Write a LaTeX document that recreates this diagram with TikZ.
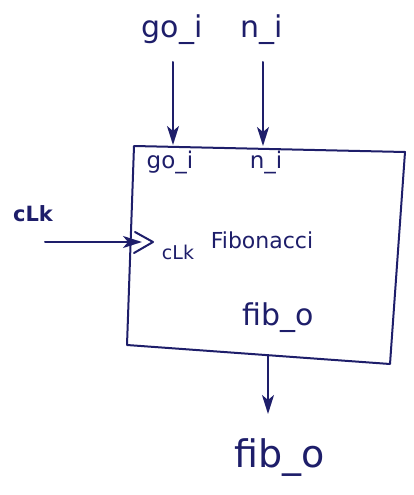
\documentclass[tikz,border=0pt]{standalone}
\usepackage{fontspec}
\setmainfont{DejaVu Sans}
\usetikzlibrary{arrows.meta}
\definecolor{ink}{HTML}{1E1E6A}
\begin{document}
\begin{tikzpicture}[x=1pt,y=-1pt,
  pen/.style={draw=ink,line width=2pt,line cap=round,line join=round},
  sig/.style={pen,-{Stealth[length=19pt,width=12pt,inset=5pt]}},
  big/.style={text=ink,font=\fontsize{30}{32}\selectfont},
  small/.style={text=ink,font=\fontsize{23}{25}\selectfont}]
\useasboundingbox (0,0) rectangle (413,495);
% block outline (slightly skewed corners)
\coordinate (tl) at (134,146);
\coordinate (tr) at (405,152);
\coordinate (br) at (390,364);
\coordinate (bl) at (127,345);
\draw[pen] (tl) -- (tr) -- (br) -- (bl) -- cycle;
% port names inside the block
\node[small] (pgo) at (170,162) {go\_i};
\node[small] (pn) at (266,162) {n\_i};
\node[text=ink,font=\fontsize{19}{21}\selectfont] (pclk) at (178,252) {cLk};
\node[text=ink,font=\fontsize{22}{24}\selectfont] (name) at (262,240) {Fibonacci};
\node[text=ink,font=\fontsize{30}{32}\selectfont] (pfib) at (278,318) {fib\_o};
% external signal names
\node[big] (go) at (172,30) {go\_i};
\node[big] (n) at (262,30) {n\_i};
\node[text=ink,font=\fontsize{21}{23}\selectfont\bfseries] (clk) at (33,214) {cLk};
\node[text=ink,font=\fontsize{38}{40}\selectfont] (fib) at (280,458) {fib\_o};
% clock input triangle
\coordinate (ca) at (135,232);
\coordinate (cb) at (153,242);
\coordinate (cc) at (134,253);
\draw[pen] (ca) -- (cb) -- (cc);
% connectors
\coordinate (gotop) at (173,62);
\coordinate (goin) at (173,145);
\coordinate (ntop) at (263,62);
\coordinate (nin) at (263,146);
\coordinate (clkstart) at (45,242);
\coordinate (clkend) at (142,242);
\coordinate (fibout) at (268,356);
\coordinate (fibend) at (268,414);
\draw[sig] (gotop) -- (goin);
\draw[sig] (ntop) -- (nin);
\draw[sig] (clkstart) -- (clkend);
\draw[sig] (fibout) -- (fibend);
\end{tikzpicture}
\end{document}
